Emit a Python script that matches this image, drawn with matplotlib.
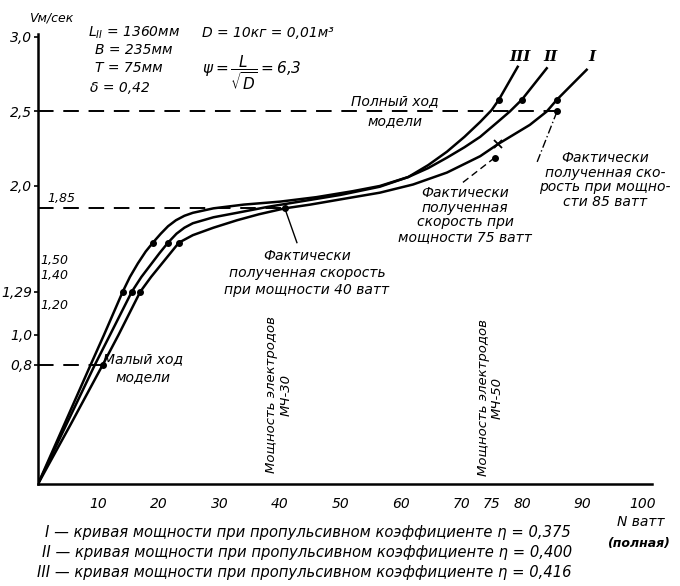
import numpy as np
import matplotlib.pyplot as plt

plt.rcParams['font.family'] = ['DejaVu Sans']
plt.rcParams['font.style'] = 'italic'
plt.rcParams['mathtext.fontset'] = 'dejavusans'

# кривые скорости V (м/сек) от мощности N (ватт)
n_1 = [0, 5.4, 10.7, 13.3, 16.9, 18.7, 20.3, 21.9, 23.3, 25.6, 29.0, 32.9, 36.5, 40.8,
       45, 50, 56.5, 62, 67.6, 73.1, 76.0, 81.3, 84.1, 85.8, 88.0, 90.7]
v_1 = [0, 0.4, 0.8, 1.0, 1.29, 1.39, 1.47, 1.55, 1.62, 1.67, 1.72, 1.77, 1.81, 1.85,
       1.875, 1.91, 1.955, 2.01, 2.09, 2.2, 2.28, 2.41, 2.5, 2.58, 2.67, 2.78]
n_2 = [0, 4.7, 9.4, 11.9, 15.5, 17.1, 18.6, 20.1, 21.5, 22.9, 24.2, 25.6, 29.0, 32.9,
       38, 44, 50, 56.5, 61.2, 64.5, 67.6, 70.5, 73.1, 76.0, 78.0, 80.0, 84.1]
v_2 = [0, 0.4, 0.8, 1.0, 1.29, 1.39, 1.47, 1.55, 1.62, 1.68, 1.72, 1.75, 1.79, 1.82,
       1.86, 1.90, 1.94, 1.995, 2.06, 2.12, 2.19, 2.26, 2.33, 2.43, 2.50, 2.58, 2.79]
n_3 = [0, 4.35, 8.7, 10.9, 14.0, 15.2, 16.5, 17.8, 19.0, 20.3, 21.5, 22.8, 24.2, 25.6,
       29.0, 34, 40, 46, 52, 56.5, 61.2, 64.5, 67.6, 70.5, 73.1, 75.0, 76.2, 79.3]
v_3 = [0, 0.4, 0.8, 1.0, 1.29, 1.39, 1.48, 1.56, 1.62, 1.68, 1.73, 1.77, 1.80, 1.82,
       1.85, 1.875, 1.895, 1.925, 1.965, 2.0, 2.06, 2.14, 2.23, 2.33, 2.43, 2.51, 2.58, 2.80]

# точки на кривых
dots_n = [14.0, 15.5, 16.9, 19.0, 21.5, 23.3, 10.7, 76.2, 80.0, 85.8]
dots_v = [1.29, 1.29, 1.29, 1.62, 1.62, 1.62, 0.8, 2.58, 2.58, 2.58]

# фактически полученные скорости
meas_n = [40.8, 75.5, 85.8]
meas_v = [1.85, 2.19, 2.50]
cross_n = [76.0]
cross_v = [2.28]

# горизонтальные уровни
levels = [0.8, 1.85, 2.5]
level_ends = [10.7, 40.8, 85.8]

# электроды
electrode_n = [40, 75]

fig = plt.figure(figsize=(6.8, 5.86), dpi=100)
ax = fig.add_axes([38/680, 1 - 484/586, 614/680, 450/586])
ax.set_xlim(0, 101.5)
ax.set_ylim(0, 3.02)
for s in ['top', 'right']:
    ax.spines[s].set_visible(False)
ax.spines['left'].set_linewidth(1.8)
ax.spines['bottom'].set_linewidth(1.8)

for n, v in [(n_1, v_1), (n_2, v_2), (n_3, v_3)]:
    ax.plot(n, v, color='black', lw=1.8, solid_joinstyle='round')
ax.plot(dots_n, dots_v, 'o', color='black', ms=4)
ax.plot(meas_n, meas_v, 'o', color='black', ms=4)
ax.plot(cross_n, cross_v, 'x', color='black', ms=6, mew=1.3)

for lv, end in zip(levels, level_ends):
    ax.plot([0, end], [lv, lv], color='black', lw=1.4, dashes=(8, 5))

# выноски
ax.plot([40.8, 42.8], [1.85, 1.62], color='black', lw=1)
ax.plot([75.5, 69.8], [2.19, 2.01], color='black', lw=1, dashes=(5, 3))
ax.plot([85.8, 82.5], [2.5, 2.16], color='black', lw=1, dashes=(6, 2, 1, 2))

xt = [10, 20, 30, 40, 50, 60, 70, 75, 80, 90, 100]
ax.set_xticks(xt)
ax.set_xticklabels([str(t) for t in xt], fontsize=10)
ax.tick_params(axis='x', length=0, pad=9)
ax.set_xticks(electrode_n, minor=True)
ax.tick_params(axis='x', which='minor', direction='in', length=6, width=1.2)

yt = [0.8, 1.0, 1.29, 2.0, 2.5, 3.0]
ax.set_yticks(yt)
ax.set_yticklabels(['0,8', '1,0', '1,29', '2,0', '2,5', '3,0'], fontsize=10)
ax.tick_params(axis='y', length=3, width=1.2, pad=1)

inner_t = [1.20, 1.40, 1.50]
for t in inner_t:
    ax.text(0.4, t, ('%.2f' % t).replace('.', ','), fontsize=9, va='center', ha='left')
ax.text(1.5, 1.87, '1,85', fontsize=9, va='bottom', ha='left')


def px(x, y):
    return x / 680, 1 - y / 586


fig.text(*px(29, 18), 'Vм/сек', fontsize=9, ha='left', va='center')
fig.text(*px(88, 33), r'L$_{II}$ = 1360мм', fontsize=10, ha='left', va='center')
fig.text(*px(95, 50), 'В = 235мм', fontsize=10, ha='left', va='center')
fig.text(*px(95, 68), 'T = 75мм', fontsize=10, ha='left', va='center')
fig.text(*px(90, 88), 'δ = 0,42', fontsize=10, ha='left', va='center')
fig.text(*px(202, 33), 'D = 10кг = 0,01м³', fontsize=10, ha='left', va='center')
fig.text(*px(202, 73), r'$\psi = \dfrac{L}{\sqrt{D}} = 6{,}3$', fontsize=11, ha='left', va='center')

for lab, x in zip(['III', 'II', 'I'], [520, 550, 592]):
    fig.text(*px(x, 57), lab, fontsize=11, ha='center', va='center',
             family='DejaVu Serif', weight='bold')

fig.text(*px(395, 111), 'Полный ход\nмодели', fontsize=10, ha='center', va='center',
         linespacing=1.55)
fig.text(*px(143, 368), 'Малый ход\nмодели', fontsize=10, ha='center', va='center',
         linespacing=1.35)
fig.text(*px(605, 180), 'Фактически\nполученная ско-\nрость при мощно-\nсти 85 ватт',
         fontsize=10, ha='center', va='center', linespacing=1.05)
fig.text(*px(465, 215), 'Фактически\nполученная\nскорость при\nмощности 75 ватт',
         fontsize=10, ha='center', va='center', linespacing=1.05)
fig.text(*px(307, 273), 'Фактически\nполученная скорость\nпри мощности 40 ватт',
         fontsize=10, ha='center', va='center', linespacing=1.25)

fig.text(*px(279, 395), 'Мощность электродов\nМЧ-30', fontsize=9.5, rotation=90,
         ha='center', va='center', multialignment='center', linespacing=1.1)
fig.text(*px(490, 398), 'Мощность электродов\nМЧ-50', fontsize=9.5, rotation=90,
         ha='center', va='center', multialignment='center', linespacing=1.1)

fig.text(*px(641, 522), 'N ватт', fontsize=10, ha='center', va='center')
fig.text(*px(638, 543), '(полная)', fontsize=9, ha='center', va='center', weight='bold')

legend_lines = [
    'I — кривая мощности при пропульсивном коэффициенте η = 0,375',
    'II — кривая мощности при пропульсивном коэффициенте η = 0,400',
    'III — кривая мощности при пропульсивном коэффициенте η = 0,416',
]
for txt, x, y in zip(legend_lines, [45, 42, 37], [532, 552, 572]):
    fig.text(*px(x, y), txt, fontsize=10.6, ha='left', va='center')

fig.savefig('out.png', dpi=100)
